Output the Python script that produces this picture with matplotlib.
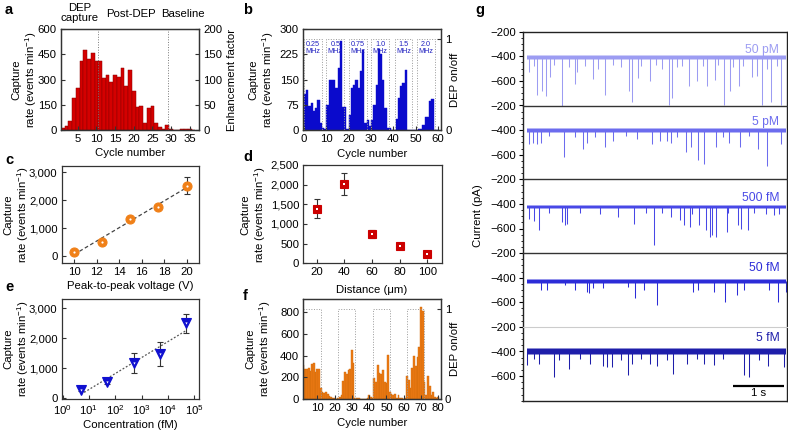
import numpy as np
import matplotlib
matplotlib.use("Agg")
import matplotlib.pyplot as plt
from matplotlib.ticker import FuncFormatter, MultipleLocator, FixedLocator

plt.rcParams['font.family'] = ['Liberation Sans', 'DejaVu Sans']
plt.rcParams['mathtext.fontset'] = 'custom'
plt.rcParams['mathtext.rm'] = 'Liberation Sans'
plt.rcParams['mathtext.it'] = 'Liberation Sans:italic'
FS = 8.2
plt.rcParams['font.size'] = FS

# ---------------- data ----------------
# panel a
a_cycles = list(range(1, 37))
a_rate = [10, 24, 54, 188, 252, 408, 474, 424, 460, 408, 408, 310, 324, 284, 324, 314, 368, 264,
          358, 230, 134, 144, 44, 128, 140, 44, 20, 4, 28, 3, 2, 2, 3, 3, 3, 0]
a_phase_lines = [10.5, 29.3]
a_phase_labels = ["DEP\ncapture", "Post-DEP", "Baseline"]

# panel b
b_cycles = list(range(0, 60))
b_rate = [106, 119, 70, 80, 55, 65, 88, 20, 5, 3,
          73, 148, 148, 148, 125, 185, 265, 67, 67, 3,
          45, 125, 135, 148, 125, 175, 238, 20, 30, 12,
          30, 75, 135, 240, 225, 150, 65, 5, 5, 0,
          0, 32, 95, 130, 140, 178, 0, 0, 0, 0,
          0, 3, 3, 15, 40, 40, 85, 92, 0, 0]
b_windows = [(0, 8), (10, 18), (20, 28), (30, 38), (40.5, 48.5), (50.5, 58.5)]
b_freqs = ["0.25\nMHz", "0.5\nMHz", "0.75\nMHz", "1.0\nMHz", "1.5\nMHz", "2.0\nMHz"]

# panel c
c_voltage = [10, 12.5, 15, 17.5, 20]
c_rate = [150, 520, 1320, 1760, 2530]
c_err = [60, 60, 60, 60, 320]

# panel d
d_distance = [20, 40, 60, 80, 100]
d_rate = [1390, 2020, 740, 430, 240]
d_err = [250, 280, 100, 60, 40]

# panel e
e_conc = [5, 50, 500, 5000, 50000]
e_rate = [290, 560, 1170, 1470, 2500]
e_err = [60, 80, 340, 400, 320]

# panel f
f_cycles = list(range(2, 81))
f_rate = [310, 280, 280, 285, 260, 320, 330, 250, 280, 280,      # 2-11
          100, 65, 55, 60, 45, 30, 20, 10, 5, 0,                # 12-21
          5, 20, 35, 170, 250, 230, 270, 280, 455, 335,          # 22-31
          5, 5, 5, 3, 3, 3, 3, 10, 40, 20,                       # 32-41
          5, 195, 155, 310, 240, 230, 270, 160, 150, 410,        # 42-51
          60, 50, 40, 45, 10, 40, 5, 5, 3, 5,                    # 52-61
          215, 175, 100, 290, 400, 300, 390, 480, 850, 810,      # 62-71
          160, 40, 210, 120, 40, 60, 15, 10, 20]                 # 72-80
f_windows = [(2, 12), (22, 32), (42, 52), (62, 72)]

# panel g traces: label, baseline, band half width, spike times (s), spike minima (pA)
g_labels = ["50 pM", "5 pM", "500 fM", "50 fM", "5 fM"]
g_colors = ["#9C9CF2", "#6C6CEE", "#4848E6", "#2C2CD8", "#1E1EAA"]
g_base = [-410, -400, -425, -430, -400]
g_halfw = [24, 20, 18, 18, 30]
g_spike_t = [
    [0.105, 0.275, 0.36, 0.44, 0.52, 0.75, 1.0, 1.05, 1.36, 1.59, 2.07, 2.12, 2.24, 2.48, 2.84, 2.90,
     3.24, 3.39, 3.59, 3.75, 3.91, 4.04, 4.22, 4.46, 4.56, 4.66, 4.84, 5.03,
     0.2, 0.6, 0.9, 1.2, 1.45, 1.75, 1.9, 2.3, 2.6, 2.7, 3.0, 3.1, 3.5, 3.8, 4.1, 4.3, 4.75, 4.95],
    [0.118, 0.183, 0.275, 0.34, 0.80, 1.16, 1.24, 1.59, 1.76, 2.22, 2.52, 2.67, 2.80, 2.88, 3.17, 3.27,
     3.41, 3.53, 3.76, 4.02, 4.24, 4.58, 4.76, 5.03, 0.5, 1.0, 1.4, 2.0, 3.0, 3.9, 4.4],
    [0.31, 0.75, 0.82, 0.85, 1.84, 2.17, 2.56, 2.88, 3.07, 3.14, 3.25, 3.43, 3.56, 3.65, 3.69, 3.76,
     3.97, 4.20, 4.26, 4.38, 4.74, 4.90, 0.12, 0.2, 0.5, 1.1, 1.5, 2.4, 2.7, 3.3, 4.0, 4.5, 5.0],
    [0.34, 0.46, 0.82, 1.01, 1.24, 1.29, 1.36, 1.56, 2.04, 2.19, 2.35, 2.61, 3.32, 3.41, 3.73, 3.93,
     4.17, 4.31, 4.80, 4.97, 5.13],
    [0.08, 0.31, 0.59, 0.90, 1.31, 1.56, 1.63, 1.73, 2.04, 2.12, 2.47, 2.61, 2.93, 3.20, 3.53, 3.73,
     4.31, 4.41, 4.77, 5.10, 0.2, 0.7, 1.1, 1.9, 2.3, 2.8, 3.4, 3.9, 4.6],
]
g_spike_i = [
    [-529, -714, -686, -720, -566, -806, -629, -529, -586, -714, -686, -771, -577, -600, -800, -743,
     -643, -600, -643, -594, -800, -686, -643, -566, -557, -800, -771, -800,
     -480, -470, -490, -475, -500, -470, -485, -480, -470, -500, -490, -475, -480, -470, -490, -480, -500, -475],
    [-515, -501, -515, -501, -616, -555, -501, -541, -488, -475, -515, -488, -488, -501, -581, -541,
     -643, -675, -541, -501, -541, -555, -688, -515, -450, -460, -455, -450, -460, -455, -450],
    [-613, -547, -573, -560, -507, -560, -733, -507, -533, -573, -587, -573, -613, -667, -653, -667,
     -627, -573, -600, -613, -480, -493, -520, -540, -470, -470, -480, -470, -475, -480, -470, -470, -480],
    [-500, -500, -459, -500, -514, -522, -486, -486, -473, -568, -500, -622, -514, -500, -514, -595,
     -541, -500, -500, -595, -514],
    [-507, -501, -608, -541, -501, -515, -528, -528, -595, -501, -501, -515, -581, -501, -501, -507,
     -595, -608, -515, -528, -460, -470, -465, -470, -460, -470, -465, -460, -470],
]

# ---------------- figure ----------------
W, H = 788, 432
fig = plt.figure(figsize=(W / 100, H / 100), dpi=100)


def axpx(x0, y0, x1, y1):
    return fig.add_axes([x0 / W, 1 - y1 / H, (x1 - x0) / W, (y1 - y0) / H])


def txt(x, y, s, **kw):
    kw.setdefault('fontsize', FS)
    return fig.text(x / W, 1 - y / H, s, **kw)


SPC = '#333333'
ylab = "Capture\nrate (events min$^{-1}$)"
comma = FuncFormatter(lambda v, p: f"{int(round(v)):,}")


def style(ax):
    for s in ax.spines.values():
        s.set_color(SPC)
        s.set_linewidth(0.9)
    ax.tick_params(direction='in', length=3, width=0.8, labelsize=FS, color=SPC, pad=3)


# panel a
ax = axpx(61, 29, 199, 130)
style(ax)
ax.bar(a_cycles, a_rate, width=1.0, color='#D40000', edgecolor='#8A0000', linewidth=0.35)
ax.set_xlim(0.5, 37.5)
ax.set_ylim(0, 600)
ax.set_yticks([0, 150, 300, 450, 600])
ax.set_xticks([5, 10, 15, 20, 25, 30, 35])
for xl in a_phase_lines:
    ax.axvline(xl, color='#777777', lw=0.7, ls=':')
axr = ax.twinx()
style(axr)
axr.set_ylim(0, 200)
axr.set_yticks([0, 50, 100, 150, 200])
txt(80, 13, a_phase_labels[0], ha='center', va='center', linespacing=1.05)
txt(131, 14, a_phase_labels[1], ha='center', va='center')
txt(183, 14, a_phase_labels[2], ha='center', va='center')
txt(25, 80, ylab, rotation=90, ha='center', va='center', linespacing=1.15)
txt(232, 80, "Enhancement factor", rotation=90, ha='center', va='center')
txt(130, 153, "Cycle number", ha='center', va='center')

# panel b
ax = axpx(303, 29, 441, 130)
style(ax)
ax.bar(np.array(b_cycles) + 0.5, b_rate, width=1.0, color='#0A0ACC', edgecolor='#0A0ACC', linewidth=0.3)
ax.set_xlim(-0.45, 61.3)
ax.set_ylim(0, 300)
ax.set_yticks([0, 75, 150, 225, 300])
ax.set_xticks([0, 10, 20, 30, 40, 50, 60])
axr = ax.twinx()
style(axr)
axr.set_ylim(0, 1.11)
axr.set_yticks([0, 1])
for (w0, w1), lab in zip(b_windows, b_freqs):
    axr.plot([w0, w0, w1, w1], [0, 1, 1, 0], color='#9A9A9A', lw=0.7, ls=':')
    axr.text((w0 + w1) / 2, 0.9, lab, ha='center', va='center', fontsize=5.2, color='#2020C0',
             linespacing=1.05)
txt(262, 80, ylab, rotation=90, ha='center', va='center', linespacing=1.15)
txt(455, 80, "DEP on/off", rotation=90, ha='center', va='center')
txt(372, 154, "Cycle number", ha='center', va='center')


def point_plot(ax, x, y, err, marker, color, ms):
    ax.errorbar(x, y, yerr=err, fmt='none', ecolor='#333333', elinewidth=0.8, capsize=2, capthick=0.8,
                zorder=2)
    ax.plot(x, y, ls='none', marker=marker, ms=ms, mfc=color, mec=color, mew=0.8, zorder=3)
    ax.plot(x, y, ls='none', marker=marker, ms=1.6, mfc='white', mec='white', mew=0, zorder=4)


# panel c
ax = axpx(61.7, 166, 199, 263.3)
style(ax)
pc = np.polyfit(c_voltage, c_rate, 1)
xx = np.array([10, 20])
ax.plot(xx, np.polyval(pc, xx), ls=(0, (3, 2)), color='#444444', lw=0.9, zorder=1)
point_plot(ax, c_voltage, c_rate, c_err, 'o', '#F08018', 6.5)
ax.set_xlim(8.9, 21.1)
ax.set_ylim(-260, 3230)
ax.set_xticks([10, 12, 14, 16, 18, 20])
ax.set_yticks([0, 1000, 2000, 3000])
ax.yaxis.set_major_formatter(comma)
txt(17, 215, ylab, rotation=90, ha='center', va='center', linespacing=1.15)
txt(130, 286, "Peak-to-peak voltage (V)", ha='center', va='center')

# panel d
ax = axpx(303.3, 165, 441.7, 263.3)
style(ax)
point_plot(ax, d_distance, d_rate, d_err, 's', '#CC0000', 5.5)
ax.set_xlim(10.3, 110.4)
ax.set_ylim(0, 2500)
ax.set_xticks([20, 40, 60, 80, 100])
ax.set_yticks([0, 500, 1000, 1500, 2000, 2500])
ax.yaxis.set_major_formatter(comma)
txt(254, 215, ylab, rotation=90, ha='center', va='center', linespacing=1.15)
txt(372, 290, "Distance (\u03bcm)", ha='center', va='center')

# panel e
ax = axpx(61.7, 299.3, 199, 399)
style(ax)
ax.set_xscale('log')
pe = np.polyfit(np.log10(e_conc), e_rate, 1)
xe = np.array([5, 50000])
ax.plot(xe, np.polyval(pe, np.log10(xe)), ls=(0, (1.5, 1.5)), color='#555555', lw=0.9, zorder=1)
point_plot(ax, e_conc, e_rate, e_err, 'v', '#1010D0', 7)
ax.set_xlim(0.93, 1.5e5)
ax.set_ylim(-23, 3300)
ax.set_xticks([1, 10, 100, 1000, 1e4, 1e5])
ax.xaxis.set_major_formatter(FuncFormatter(lambda v, p: f"$10^{{{int(round(np.log10(v)))}}}$"))
ax.xaxis.set_minor_locator(FixedLocator([]))
ax.set_yticks([0, 1000, 2000, 3000])
ax.yaxis.set_major_formatter(comma)
txt(17, 349, ylab, rotation=90, ha='center', va='center', linespacing=1.15)
txt(130, 425, "Concentration (fM)", ha='center', va='center')

# panel f
ax = axpx(303.3, 299.3, 440.7, 399)
style(ax)
ax.bar(f_cycles, f_rate, width=1.0, color='#EC7A14', edgecolor='#D06A0A', linewidth=0.3)
ax.set_xlim(1.9, 81.4)
ax.set_ylim(0, 920)
ax.set_yticks([0, 200, 400, 600, 800])
ax.set_xticks([10, 20, 30, 40, 50, 60, 70, 80])
axr = ax.twinx()
style(axr)
axr.set_ylim(0, 1.11)
axr.set_yticks([0, 1])
for (w0, w1) in f_windows:
    axr.plot([w0, w0, w1, w1], [0, 1, 1, 0], color='#9A9A9A', lw=0.7, ls=':')
txt(259, 349, ylab, rotation=90, ha='center', va='center', linespacing=1.15)
txt(455, 349, "DEP on/off", rotation=90, ha='center', va='center')
txt(372, 423, "Cycle number", ha='center', va='center')

# panel g
top, bot = 31.7, 400.7
sub_h = (bot - top) / 5
sep_colors = ['#333333', '#333333', '#333333', '#CCCCCC', '#222222']
label_y = [-350, -333, -353, -325, -290]
for k in range(5):
    y0 = top + k * sub_h
    gax = axpx(523.3, y0, 787, y0 + sub_h)
    gax.set_xlim(0, 5.15)
    gax.set_ylim(-800, -200)
    for nm, s in gax.spines.items():
        s.set_linewidth(1.0)
        s.set_color('#222222')
    gax.spines['top'].set_visible(k == 0)
    gax.spines['bottom'].set_color(sep_colors[k])
    gax.spines['bottom'].set_linewidth(1.0 if k != 3 else 0.8)
    gax.set_xticks([])
    gax.set_yticks([-200, -400, -600])
    gax.set_yticklabels(['\u2212200', '\u2212400', '\u2212600'])
    gax.yaxis.set_minor_locator(MultipleLocator(50))
    gax.tick_params(axis='y', which='major', direction='out', length=3, width=0.8, labelsize=FS, pad=2)
    gax.tick_params(axis='y', which='minor', direction='out', length=1.8, width=0.6)
    col = g_colors[k]
    tb = np.array([0.07, 5.13])
    hw = g_halfw[k]
    gax.fill_between(tb, g_base[k] - hw, g_base[k] + hw, color=col, lw=0, alpha=0.5)
    gax.fill_between(tb, g_base[k] - hw * 0.6, g_base[k] + hw * 0.6, color=col, lw=0)
    gax.vlines(g_spike_t[k], g_base[k], g_spike_i[k], color=col, lw=0.75)
    gax.text(5.0, label_y[k], g_labels[k], ha='right', va='center', fontsize=FS + 0.5, color=col)
    gax.set_zorder(5 - k)
    if k == 4:
        gax.plot([4.1, 5.1], [-677, -677], color='black', lw=1.6, solid_capstyle='butt')
        gax.text(4.6, -740, "1 s", ha='center', va='center', fontsize=FS)
txt(478, 216, "Current (pA)", rotation=90, ha='center', va='center')

# panel letters
for s, x, y in [("a", 5, 10), ("b", 243, 10), ("c", 5, 160), ("d", 243, 157), ("e", 5, 287),
                ("f", 243, 296), ("g", 475, 10)]:
    txt(x, y, s, ha='left', va='center', fontsize=10.5, fontweight='bold')

fig.savefig("out.png", dpi=100)
